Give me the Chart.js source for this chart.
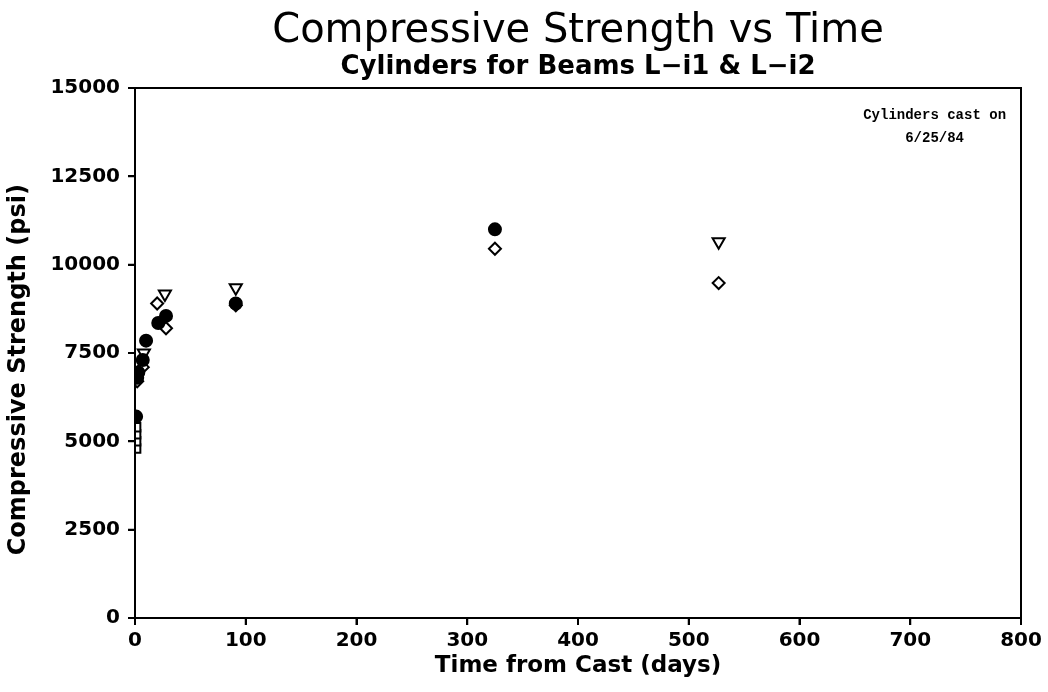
<!DOCTYPE html>
<html>
<head>
<meta charset="utf-8">
<script src="https://cdn.jsdelivr.net/npm/chart.js@4/dist/chart.umd.min.js"></script>
<style>
  html, body { margin: 0; padding: 0; background: #fff; }
  #wrap { width: 1048px; height: 692px; }
</style>
</head>
<body>
<div id="wrap"><canvas id="myChart" width="1048" height="692"></canvas></div>
<script>
// cylinder test results
const squareDays = [1, 1, 1, 1];
const squarePsi = [4800, 5000, 5200, 5400];

const filledDays = [1, 2, 3, 7, 10, 21, 28, 91, 325];
const filledPsi = [5700, 6800, 6950, 7300, 7850, 8350, 8550, 8900, 11000];

const diamondDays = [2, 7, 20, 28, 91, 325, 527];
const diamondPsi = [6700, 7100, 8900, 8200, 8850, 10450, 9480];

const triangleDays = [8, 27, 91, 527];
const trianglePsi = [7500, 9170, 9350, 10650];

const xTicks = [0, 100, 200, 300, 400, 500, 600, 700, 800];
const yTicks = [0, 2500, 5000, 7500, 10000, 12500, 15000];

const noteLines = ["Cylinders cast on", "6/25/84"];

function pts(xs, ys) {
  return xs.map((x, i) => ({ x: x, y: ys[i] }));
}

// frame, outward tick marks and the note
const boxAndNote = {
  id: 'boxAndNote',
  afterDraw(chart) {
    const ctx = chart.ctx;
    const a = chart.chartArea;
    const xs = chart.scales.x, ys = chart.scales.y;
    ctx.save();
    ctx.strokeStyle = '#000';
    ctx.lineWidth = 2;
    ctx.beginPath();
    ctx.moveTo(a.left, a.bottom);
    ctx.lineTo(a.left, a.top);
    ctx.lineTo(a.right, a.top);
    ctx.lineTo(a.right, a.bottom);
    ctx.lineTo(a.left, a.bottom);
    xTicks.forEach(v => {
      const px = xs.getPixelForValue(v);
      ctx.moveTo(px, a.bottom);
      ctx.lineTo(px, a.bottom + 7);
    });
    yTicks.forEach(v => {
      const py = ys.getPixelForValue(v);
      ctx.moveTo(a.left, py);
      ctx.lineTo(a.left - 7, py);
    });
    ctx.stroke();
    ctx.fillStyle = '#000';
    ctx.font = 'bold 14px "Liberation Mono"';
    ctx.textAlign = 'center';
    ctx.textBaseline = 'middle';
    ctx.fillText(noteLines[0], xs.getPixelForValue(722), ys.getPixelForValue(14230));
    ctx.fillText(noteLines[1], xs.getPixelForValue(722), ys.getPixelForValue(13560));
    ctx.restore();
  }
};

const mk = (style, filled, rot) => ({
  pointStyle: style,
  pointRotation: rot || 0,
  pointRadius: 6,
  pointBorderWidth: 2,
  borderColor: '#000',
  backgroundColor: filled ? '#000' : '#fff',
  showLine: false
});

const axisGrid = { drawOnChartArea: false, drawTicks: true, tickLength: 7, color: '#000', tickColor: '#000', tickWidth: 2, lineWidth: 2 };

new Chart(document.getElementById("myChart"), {
  type: 'scatter',
  data: {
    datasets: [
      Object.assign({ label: 'A', data: pts(squareDays, squarePsi) }, mk('rect', false)),
      Object.assign({ label: 'B', data: pts(filledDays, filledPsi) }, mk('circle', true)),
      Object.assign({ label: 'C', data: pts(diamondDays, diamondPsi) }, mk('rectRot', false)),
      Object.assign({ label: 'D', data: pts(triangleDays, trianglePsi) }, mk('triangle', false, 180), { pointRadius: 7 })
    ]
  },
  options: {
    responsive: false,
    animation: false,
    layout: { padding: { left: 0, right: 27, top: 0, bottom: 0 } },
    plugins: {
      legend: { display: false },
      tooltip: { enabled: false },
      title: {
        display: true,
        fullSize: false,
        text: 'Compressive Strength vs Time',
        color: '#000',
        font: { family: 'DejaVu Sans', size: 40, weight: 'normal', lineHeight: 1 },
        padding: { top: 12, bottom: 2 }
      },
      subtitle: {
        display: true,
        fullSize: false,
        text: 'Cylinders for Beams L\u2212i1 & L\u2212i2',
        color: '#000',
        font: { family: 'DejaVu Sans', size: 26, weight: 'bold', lineHeight: 1 },
        padding: { top: 0, bottom: 8 }
      }
    },
    scales: {
      x: {
        type: 'linear',
        min: 0, max: 800,
        afterBuildTicks: s => { s.ticks = xTicks.map(v => ({ value: v })); },
        afterFit: s => { s.height = 74; },
        grid: axisGrid,
        border: { color: '#000', width: 2 },
        ticks: { color: '#000', font: { family: 'DejaVu Sans', size: 20, weight: 'bold' }, padding: 4, maxRotation: 0 },
        title: {
          display: true,
          text: 'Time from Cast (days)',
          color: '#000',
          font: { family: 'DejaVu Sans', size: 23, weight: 'bold' },
          padding: { top: 4, bottom: 12 }
        }
      },
      y: {
        min: 0, max: 15000,
        afterBuildTicks: s => { s.ticks = yTicks.map(v => ({ value: v })); },
        afterFit: s => { s.width = 135; },
        grid: axisGrid,
        border: { color: '#000', width: 2 },
        ticks: {
          color: '#000',
          font: { family: 'DejaVu Sans', size: 20, weight: 'bold' },
          padding: 8,
          callback: v => String(v)
        },
        title: {
          display: true,
          text: 'Compressive Strength (psi)    ',
          color: '#000',
          font: { family: 'DejaVu Sans', size: 24, weight: 'bold' },
          padding: { top: 4, bottom: 4 }
        }
      }
    }
  },
  plugins: [boxAndNote]
});
</script>
</body>
</html>
